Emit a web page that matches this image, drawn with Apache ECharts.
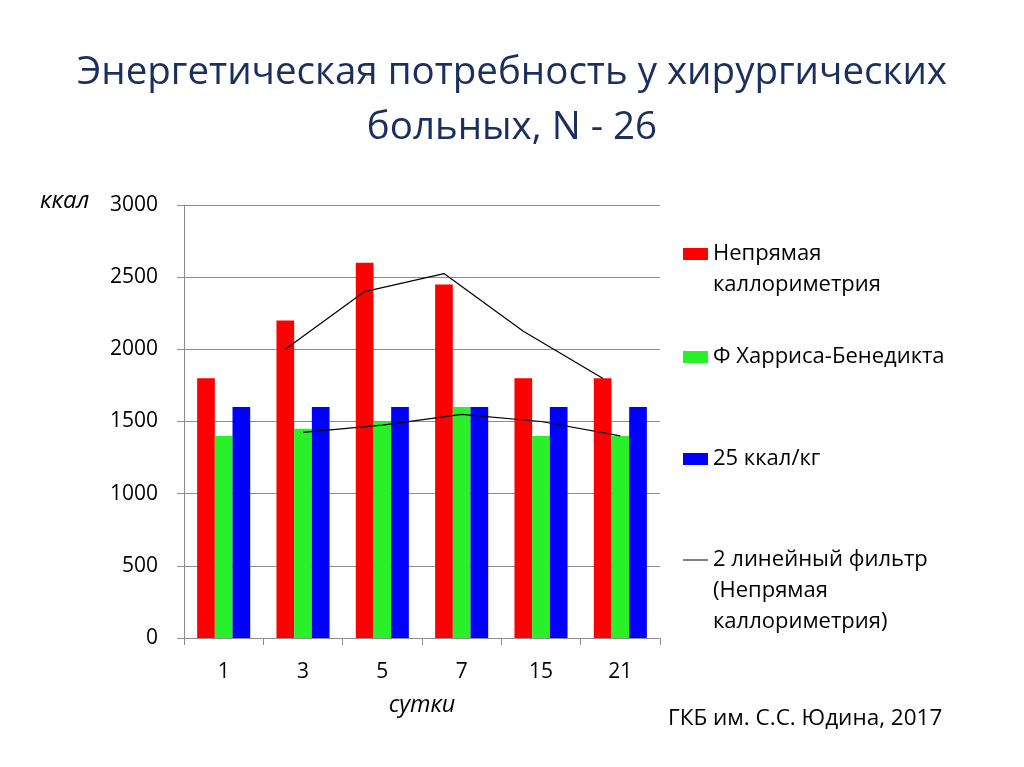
<!DOCTYPE html>
<html>
<head>
<meta charset="utf-8">
<script src="https://cdn.jsdelivr.net/npm/echarts@6/dist/echarts.min.js"></script>
<style>
html,body{margin:0;padding:0;background:#fff;}
#c{width:1024px;height:767px;}
</style>
</head>
<body>
<div id="c"></div>
<script>
// ---- data ----
const categories = ['1', '3', '5', '7', '15', '21'];
const indirectCalorimetry = [1800, 2200, 2600, 2450, 1800, 1800];
const harrisBenedict = [1400, 1450, 1500, 1600, 1400, 1400];
const kcal25 = [1600, 1600, 1600, 1600, 1600, 1600];
// 2-period moving-average trendlines as drawn in the picture
const trendIndirect = [null, 2000, 2400, 2525, 2125, 1800];
const trendHarris = [null, 1425, 1475, 1550, 1500, 1400];
const yTicks = [0, 500, 1000, 1500, 2000, 2500, 3000];

const titleText = 'Энергетическая потребность у хирургических\nбольных, N - 26';
const nameIndirect = 'Непрямая каллориметрия';
const nameHarris = 'Ф Харриса-Бенедикта';
const name25 = '25 ккал/кг';
const nameTrend = '2 линейный фильтр (Непрямая каллориметрия)';
const nameTrend2 = 'trend2';

// ---- layout ----
const FONT = 'Open Sans';
const BAR_FRAC = 0.223; // bar width as fraction of category band
const barPct = (BAR_FRAC * 100).toFixed(1) + '%';
const LH = 31;

function trendPoints(vals, offset) {
  const out = [];
  vals.forEach((v, i) => { if (v != null) out.push([i + offset, v]); });
  return out;
}

const chart = echarts.init(document.getElementById('c'), null, {renderer: 'canvas'});

// legend item whose first text line is centred on the icon
function legendAt(firstLineY, name, lines, icon) {
  const n = lines.length;
  const padded = new Array(n - 1).fill('').concat(lines).join('\n');
  const h = (2 * n - 1) * LH;
  return {
    orient: 'vertical',
    left: 683,
    top: firstLineY - h / 2,
    padding: 0,
    itemWidth: 25,
    itemHeight: 12,
    itemGap: 0,
    selectedMode: false,
    data: [{name: name, icon: icon}],
    formatter: () => padded,
    textStyle: {fontFamily: FONT, fontSize: 22, color: '#000', lineHeight: LH}
  };
}

const option = {
  backgroundColor: '#fff',
  animation: false,
  title: {
    text: titleText,
    left: 'center',
    top: 41,
    textStyle: {fontFamily: FONT, fontSize: 38.5, fontWeight: 'normal', color: '#1A2F5E', lineHeight: 55}
  },
  graphic: [{
    type: 'text',
    left: 668,
    top: 707,
    style: {text: 'ГКБ им. С.С. Юдина, 2017', fontFamily: FONT, fontSize: 22.5, fill: '#000'}
  }, {
    type: 'text',
    left: 40,
    top: 189,
    style: {text: 'ккал', fontFamily: FONT, fontSize: 24, fontStyle: 'italic', fill: '#000'}
  }],
  legend: [
    legendAt(254, nameIndirect, ['Непрямая', 'каллориметрия'], 'rect'),
    legendAt(357, nameHarris, [nameHarris], 'rect'),
    legendAt(459, name25, [name25], 'rect'),
    legendAt(560, nameTrend, ['2 линейный фильтр', '(Непрямая', 'каллориметрия)'], 'path://M0,0 H25 V1 H0 Z')
  ],
  grid: {left: 184, right: 364, top: 205, bottom: 129, containLabel: false},
  xAxis: [{
    type: 'category',
    data: categories,
    boundaryGap: true,
    name: 'сутки',
    nameLocation: 'middle',
    nameGap: 56,
    nameTextStyle: {fontFamily: FONT, fontSize: 23.5, fontStyle: 'italic', color: '#000'},
    axisLine: {show: true, onZero: false, lineStyle: {color: '#8C8C8C', width: 1}},
    axisTick: {show: true, length: 7, lineStyle: {color: '#8C8C8C'}},
    axisLabel: {fontFamily: FONT, fontSize: 21, color: '#000', margin: 24}
  }, {
    type: 'value',
    min: -0.5,
    max: 5.5,
    show: false,
    gridIndex: 0
  }],
  yAxis: {
    type: 'value',
    min: yTicks[0],
    max: yTicks[yTicks.length - 1],
    interval: yTicks[1] - yTicks[0],
    axisLine: {show: true, onZero: false, lineStyle: {color: '#8C8C8C', width: 1}},
    axisTick: {show: true, length: 7, lineStyle: {color: '#8C8C8C'}},
    splitLine: {show: true, lineStyle: {color: '#8C8C8C', width: 1}},
    axisLabel: {fontFamily: FONT, fontSize: 21, color: '#000', margin: 26, formatter: v => String(v)}
  },
  series: [
    {name: nameIndirect, type: 'bar', data: indirectCalorimetry, barWidth: barPct, barGap: '0%', itemStyle: {color: '#FF0000'}},
    {name: nameHarris, type: 'bar', data: harrisBenedict, barWidth: barPct, barGap: '0%', itemStyle: {color: '#2AF02A'}},
    {name: name25, type: 'bar', data: kcal25, barWidth: barPct, barGap: '0%', itemStyle: {color: '#0000FF'}},
    {name: nameTrend, type: 'line', xAxisIndex: 1, data: trendPoints(trendIndirect, -BAR_FRAC), symbol: 'none', lineStyle: {color: '#000', width: 1.2}, itemStyle: {color: '#000'}, z: 5},
    {name: nameTrend2, type: 'line', xAxisIndex: 1, data: trendPoints(trendHarris, 0), symbol: 'none', lineStyle: {color: '#000', width: 1.2}, itemStyle: {color: '#000'}, z: 5}
  ]
};

chart.setOption(option);
</script>
</body>
</html>
